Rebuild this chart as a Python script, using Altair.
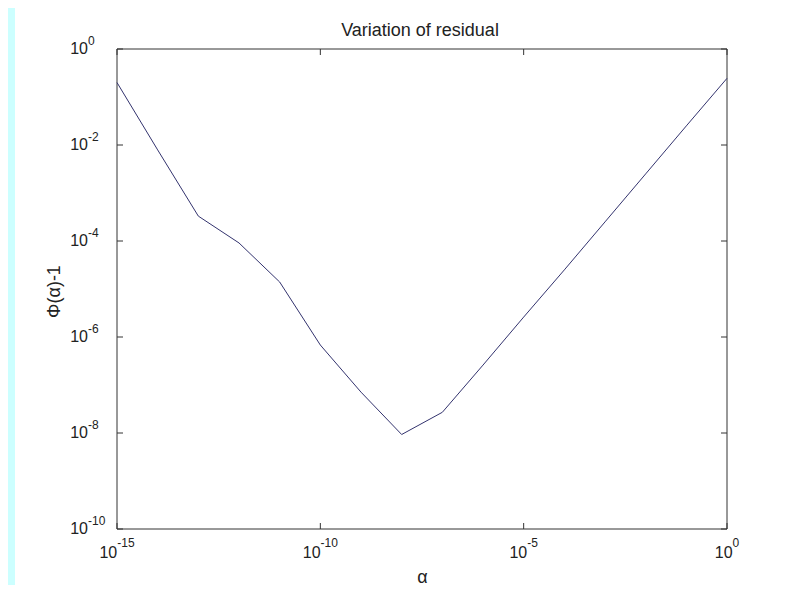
import altair as alt
import pandas as pd

# ---- data ----
alpha = [1e-15, 1e-14, 1e-13, 1e-12, 1e-11, 1e-10, 1e-9, 1e-8,
         1e-7, 1e-6, 1e-5, 1e-4, 1e-3, 1e-2, 1e-1, 1e0]
residual = [2.0e-1, 7.9e-3, 3.3e-4, 9.1e-5, 1.4e-5, 6.8e-7, 7.1e-8, 9.3e-9,
            2.7e-8, 2.6e-7, 2.6e-6, 2.5e-5, 2.5e-4, 2.5e-3, 2.5e-2, 2.45e-1]

x_ticks = [1e-15, 1e-10, 1e-5, 1e0]
x_exponents = ["-15", "-10", "-5", "0"]
y_ticks = [1e0, 1e-2, 1e-4, 1e-6, 1e-8, 1e-10]
y_exponents = ["0", "-2", "-4", "-6", "-8", "-10"]
label_base = "10"

title_text = "Variation of residual"
x_title = "α"
y_title = "Φ(α)-1"

FONT = "Liberation Sans"
TXT = "#222222"
BASE_SIZE = 16
EXP_SIZE = 12
W, H = 610, 480

df = pd.DataFrame({"alpha": alpha, "phi": residual})
xt = pd.DataFrame({"alpha": x_ticks, "exp": x_exponents, "base": label_base})
yt = pd.DataFrame({"phi": y_ticks, "exp": y_exponents, "base": label_base})
one = pd.DataFrame({"k": [0]})

x_scale = alt.Scale(type="log", domain=[1e-15, 1e0], nice=False)
y_scale = alt.Scale(type="log", domain=[1e-10, 1e0], nice=False)

x_axis = alt.Axis(values=x_ticks, labels=False, ticks=False, domain=False, grid=False,
                  zindex=1, title=x_title, titleFont=FONT, titleFontSize=18,
                  titleFontWeight="normal", titleColor=TXT, titleX=305, titleY=53,
                  titleAlign="center", titleBaseline="alphabetic", titleAngle=0)
y_axis = alt.Axis(values=y_ticks, labels=False, ticks=False, domain=False, grid=False,
                  zindex=1, title=y_title, titleFont=FONT, titleFontSize=18,
                  titleFontWeight="normal", titleColor=TXT, titleX=-63, titleY=242,
                  titleAngle=270, titleAlign="center", titleBaseline="middle")

X = alt.X("alpha:Q", scale=x_scale, axis=x_axis)
Y = alt.Y("phi:Q", scale=y_scale, axis=y_axis)

bg = alt.Chart(one).mark_rect(color="white", clip=False).encode(
    x=alt.value(-102), x2=alt.value(679), y=alt.value(-41), y2=alt.value(536))

frame = alt.Chart(one).mark_rect(filled=False, stroke="#333333", strokeWidth=1).encode(
    x=alt.value(0), x2=alt.value(W), y=alt.value(0), y2=alt.value(H))

title = alt.Chart(one).mark_text(text=title_text, font=FONT, fontSize=18, color=TXT,
                                 align="center", baseline="alphabetic").encode(
    x=alt.value(303), y=alt.value(-13))

line = alt.Chart(df).mark_line(color="#33336e", strokeWidth=1).encode(x=X, y=Y)

tick_color = "#333333"
left_ticks = alt.Chart(yt).mark_rule(color=tick_color).encode(
    y=Y, x=alt.value(0), x2=alt.value(6))
right_ticks = alt.Chart(yt).mark_rule(color=tick_color).encode(
    y=Y, x=alt.value(W), x2=alt.value(W - 6))
bottom_ticks = alt.Chart(xt).mark_rule(color=tick_color).encode(
    x=X, y=alt.value(H), y2=alt.value(H - 6))
top_ticks = alt.Chart(xt).mark_rule(color=tick_color).encode(
    x=X, y=alt.value(0), y2=alt.value(6))

# y tick labels: "10" right-aligned, exponent raised after it
y_base = alt.Chart(yt).mark_text(font=FONT, fontSize=BASE_SIZE, color=TXT,
                                 align="right", baseline="middle").encode(
    y=Y, x=alt.value(-29), text="base:N")
y_exp = alt.Chart(yt).mark_text(font=FONT, fontSize=EXP_SIZE, color=TXT,
                                align="left", baseline="middle", dy=-8).encode(
    y=Y, x=alt.value(-29), text="exp:N")

# x tick labels: "10"+exponent centred on each tick
def char_w(c, size):
    return (0.333 if c == "-" else 0.556) * size

base_w = sum(char_w(c, BASE_SIZE) for c in label_base)
x_label_layers = []
for e in x_exponents:
    exp_w = sum(char_w(c, EXP_SIZE) for c in e)
    shift = (base_w - exp_w) / 2
    sub = alt.Chart(xt).transform_filter(alt.datum.exp == e)
    x_label_layers.append(sub.mark_text(font=FONT, fontSize=BASE_SIZE, color=TXT,
                                        align="right", baseline="alphabetic", dx=shift)
                          .encode(x=X, y=alt.value(H + 29), text="base:N"))
    x_label_layers.append(sub.mark_text(font=FONT, fontSize=EXP_SIZE, color=TXT,
                                        align="left", baseline="alphabetic", dx=shift)
                          .encode(x=X, y=alt.value(H + 18), text="exp:N"))

chart = alt.layer(bg, frame, title, line, left_ticks, right_ticks, bottom_ticks,
                  top_ticks, y_base, y_exp, *x_label_layers).properties(
    width=W, height=H,
    background="#ccffff",
    padding={"left": 109, "top": 41, "right": 69, "bottom": 56},
    autosize=alt.AutoSizeParams(type="none"),
).configure_view(stroke=None)

chart.save("out.html", embed_options={"renderer": "svg", "actions": False})
